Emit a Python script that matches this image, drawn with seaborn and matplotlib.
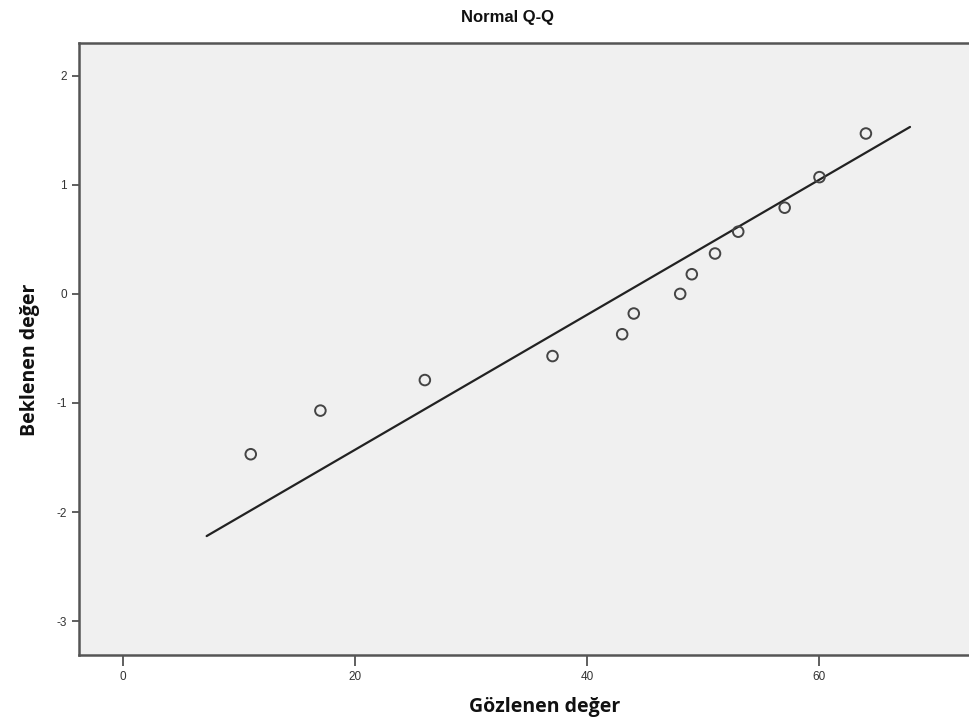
import numpy as np
import matplotlib
matplotlib.use("Agg")
import matplotlib.pyplot as plt
import pandas as pd
import seaborn as sns

# Gözlenen ve beklenen değerler
gozlenen = [11, 17, 26, 37, 43, 44, 48, 49, 51, 53, 57, 60, 64]
beklenen = [-1.47, -1.07, -0.79, -0.57, -0.37, -0.18, 0.0, 0.18, 0.37, 0.57, 0.79, 1.07, 1.47]

# Referans doğrusu uç noktaları
cizgi_x = [7.2, 67.8]
cizgi_y = [-2.22, 1.53]

x_ticks = [0, 20, 40, 60]
y_ticks = [-3, -2, -1, 0, 1, 2]

sns.set_style("white")
plt.rcParams['font.family'] = ['Liberation Sans', 'DejaVu Sans']
plt.rcParams['axes.unicode_minus'] = False

df = pd.DataFrame({"x": gozlenen, "y": beklenen})
cizgi_df = pd.DataFrame({"x": cizgi_x, "y": cizgi_y})

fig = plt.figure(figsize=(9.69, 7.28), dpi=100)
ax = fig.add_axes([0.0815, 0.1003, 0.9247, 0.8407])
ax.set_facecolor("#f0f0f0")

sns.lineplot(data=cizgi_df, x="x", y="y", color="#222222", linewidth=1.6, ax=ax)
sns.scatterplot(data=df, x="x", y="y", marker="o", s=58, facecolors="none",
                edgecolor="#444444", linewidth=1.4, ax=ax, zorder=3)

ax.set_xlim(-3.8, 73.4)
ax.set_ylim(-3.31, 2.30)
ax.set_xticks(x_ticks)
ax.set_yticks(y_ticks)
ax.tick_params(axis="both", direction="out", length=5, width=1.2, color="#444444",
               labelsize=8.5, labelcolor="#333333", bottom=True, left=True)
ax.tick_params(axis="x", length=8)

for s in ["left", "bottom", "top", "right"]:
    ax.spines[s].set_color("#555555")
    ax.spines[s].set_linewidth(1.8)

lab_font = dict(family=["Open Sans", "DejaVu Sans"], fontweight="bold", fontsize=14, color="#111111")
ax.set_xlabel("Gözlenen değer", va="center", **lab_font)
ax.set_ylabel("Beklenen değer", va="center", **lab_font)
ax.xaxis.set_label_coords(0.52, -0.085)
ax.yaxis.set_label_coords(-0.0546, 0.482)

ax.text(0.4777, 1.042, "Normal Q-Q", transform=ax.transAxes, ha="center", va="center",
        fontsize=12, fontweight="bold", color="#111111")

fig.savefig("out.png", dpi=100)
